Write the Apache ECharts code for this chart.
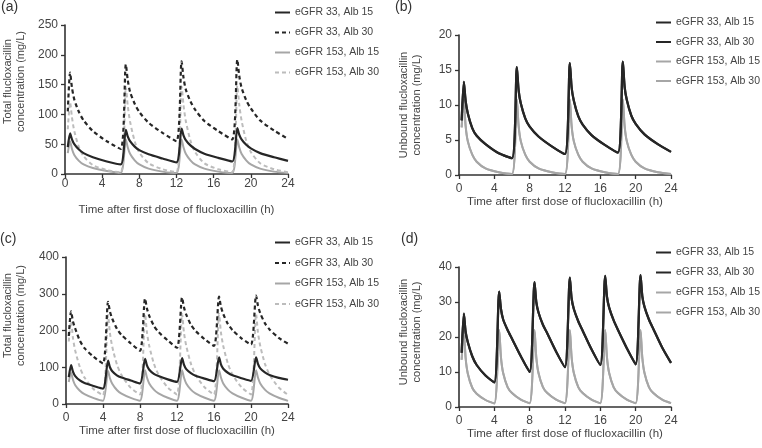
<!DOCTYPE html>
<html>
<head>
<meta charset="utf-8">
<script src="https://cdn.jsdelivr.net/npm/echarts@6/dist/echarts.min.js"></script>
<style>
  html, body { margin: 0; padding: 0; background: #fff; }
  #chart { width: 762px; height: 448px; }
</style>
</head>
<body>
<div id="chart"></div>
<script>
// sampling times (h) - q6h dosing for (a)/(b), q4h for (c)/(d)
const timeQ6 = [0.3, 0.55, 0.75, 1, 1.5, 2, 3, 4.5, 6,
  6.55, 6.75, 7, 7.5, 8, 9, 10.5, 12,
  12.55, 12.75, 13, 13.5, 14, 15, 16.5, 18,
  18.55, 18.75, 19, 19.5, 20, 21, 22.5, 24];
const timeQ4 = [0.3, 0.55, 0.75, 1, 1.5, 2, 3, 4,
  4.55, 4.75, 5, 5.5, 6, 7, 8,
  8.55, 8.75, 9, 9.5, 10, 11, 12,
  12.55, 12.75, 13, 13.5, 14, 15, 16,
  16.55, 16.75, 17, 17.5, 18, 19, 20,
  20.55, 20.75, 21, 21.5, 22, 23, 24];

const legendNames = ['eGFR 33, Alb 15', 'eGFR 33, Alb 30', 'eGFR 153, Alb 15', 'eGFR 153, Alb 30'];

// (a) total concentration, q6h
const totalA_33_15 = [45, 68, 58, 50, 41, 35, 28, 21, 16,
  74, 63, 55, 46, 40, 33, 26, 19.5,
  76, 65, 57, 48, 42, 34, 27, 21,
  77, 66, 58, 49, 43, 35, 28, 22];
const totalA_33_30 = [105, 170, 145, 125, 104, 90, 72, 55, 42,
  184, 158, 138, 118, 104, 86, 69, 55,
  189, 162, 142, 122, 108, 89, 72, 58,
  192, 165, 145, 124, 110, 90, 73, 59];
const totalA_153_15 = [35, 55, 42, 32, 22, 16, 10, 5, 2,
  58, 45, 34, 23, 16, 9, 4, 1.5,
  58, 45, 34, 23, 16, 9, 4, 1.5,
  58, 45, 34, 23, 16, 9, 4, 1.5];
const totalA_153_30 = [75, 120, 95, 72, 45, 30, 15, 6.5, 2.5,
  146, 115, 88, 55, 36, 18, 8, 3,
  147, 116, 89, 56, 37, 18, 8, 3,
  148, 117, 90, 56, 37, 18, 8, 3];

// (b) unbound concentration, q6h (albumin has no effect)
const unboundB_33_15 = [7.8, 13.3, 10.6, 8.8, 6.7, 5.6, 4.4, 3.1, 2.4,
  15.4, 12.1, 10.2, 8.1, 6.9, 5.5, 4.1, 3.0,
  16.0, 12.5, 10.6, 8.4, 7.2, 5.7, 4.3, 3.2,
  16.2, 12.6, 10.7, 8.5, 7.3, 5.8, 4.4, 3.3];
const unboundB_33_30 = [7.8, 13.3, 10.6, 8.8, 6.7, 5.6, 4.4, 3.1, 2.4,
  15.4, 12.1, 10.2, 8.1, 6.9, 5.5, 4.1, 3.0,
  16.0, 12.5, 10.6, 8.4, 7.2, 5.7, 4.3, 3.2,
  16.2, 12.6, 10.7, 8.5, 7.3, 5.8, 4.4, 3.3];
const unboundB_153_15 = [6.8, 10.8, 7.0, 4.8, 2.9, 1.9, 0.95, 0.4, 0.15,
  10.8, 7.0, 4.8, 2.9, 1.9, 0.95, 0.4, 0.15,
  10.8, 7.0, 4.8, 2.9, 1.9, 0.95, 0.4, 0.15,
  10.8, 7.0, 4.8, 2.9, 1.9, 0.95, 0.4, 0.15];
const unboundB_153_30 = [6.8, 10.8, 7.0, 4.8, 2.9, 1.9, 0.95, 0.4, 0.15,
  10.8, 7.0, 4.8, 2.9, 1.9, 0.95, 0.4, 0.15,
  10.8, 7.0, 4.8, 2.9, 1.9, 0.95, 0.4, 0.15,
  10.8, 7.0, 4.8, 2.9, 1.9, 0.95, 0.4, 0.15];

// (c) total concentration, q4h
const totalC_33_15 = [73, 106, 88, 76, 64, 57, 49, 42,
  118, 100, 89, 78, 72, 64, 56,
  123, 105, 93, 82, 76, 67, 60,
  125, 107, 95, 84, 77, 69, 62,
  127, 108, 96, 85, 78, 70, 63,
  127, 109, 97, 86, 79, 71, 66];
const totalC_33_30 = [185, 252, 225, 205, 172, 152, 128, 110,
  278, 252, 232, 205, 188, 165, 145,
  287, 260, 240, 213, 196, 173, 153,
  290, 263, 243, 216, 199, 176, 158,
  292, 265, 245, 218, 201, 178, 162,
  295, 268, 247, 220, 203, 180, 164];
const totalC_153_15 = [60, 85, 66, 51, 36, 27, 16, 9,
  90, 70, 55, 38, 28, 16.5, 9,
  92, 72, 56, 39, 29, 17, 9,
  92, 72, 56, 39, 29, 17, 9,
  92, 72, 56, 39, 29, 17, 9,
  92, 72, 56, 39, 29, 17, 8.5];
const totalC_153_30 = [170, 225, 180, 145, 100, 72, 40, 24,
  242, 193, 156, 108, 79, 44, 26,
  245, 195, 158, 110, 80, 45, 26,
  245, 195, 158, 110, 80, 45, 26,
  245, 195, 158, 110, 80, 45, 26,
  245, 195, 158, 110, 80, 45, 25];

// (d) unbound concentration, q4h
const unboundD_33_15 = [15.5, 26.7, 21.5, 18.5, 14.5, 12, 9, 7,
  33, 28, 25, 22, 19.5, 14.5, 10,
  35.7, 30, 27, 23.5, 21, 15.8, 11.4,
  37, 31, 28, 24.5, 21.8, 16.5, 12,
  37.5, 31.5, 28.4, 24.8, 22, 16.8, 12.2,
  37.7, 31.7, 28.6, 25, 22.3, 17, 12.6];
const unboundD_33_30 = unboundD_33_15.slice();
const unboundD_153_15 = [13.5, 22, 14, 9.5, 5.5, 3.8, 2, 1,
  22, 14.2, 9.7, 5.7, 4, 2.1, 1.1,
  22, 14.2, 9.7, 5.7, 4, 2.1, 1.1,
  22, 14.2, 9.7, 5.7, 4, 2.1, 1.1,
  22, 14.2, 9.7, 5.7, 4, 2.1, 1.1,
  22, 14.2, 9.7, 5.7, 4, 2.1, 1.1];
const unboundD_153_30 = unboundD_153_15.slice();

const FONT = '"Liberation Sans", Arial, sans-serif';
const TEXT = '#444';
const AXIS = '#333';
const BLACK = '#262626';
const GREY = '#a6a6a6';
const GREY_DASH = '#bcbcbc';

function pairs(t, v) {
  return t.map((x, i) => [x, v[i]]);
}

const panels = [
  { tag: '(a)', tagPos: [1, 0], grid: { left: 64, top: 25, width: 224, height: 149 },
    yMax: 250, yStep: 50, yName: 'Total flucloxacillin\nconcentration (mg/L)', yGap: 38, yShift: 36,
    xGap: 30, xMargin: 4, time: timeQ6, dashed: true,
    values: [totalA_33_15, totalA_33_30, totalA_153_15, totalA_153_30],
    legend: { left: 274, top: 7, itemGap: 9 } },
  { tag: '(b)', tagPos: [395, 0], grid: { left: 459, top: 35, width: 212, height: 140 },
    yMax: 20, yStep: 5, yName: 'Unbound flucloxacillin\nconcentration (mg/L)', yGap: 36, yShift: 0,
    xGap: 21, xMargin: 8, time: timeQ6, dashed: false,
    values: [unboundB_33_15, unboundB_33_30, unboundB_153_15, unboundB_153_30],
    legend: { left: 655, top: 17, itemGap: 8.5 } },
  { tag: '(c)', tagPos: [0, 232], grid: { left: 65, top: 257, width: 223, height: 147 },
    yMax: 400, yStep: 100, yName: 'Total flucloxacillin\nconcentration (mg/L)', yGap: 39, yShift: 30,
    xGap: 21, xMargin: 8, time: timeQ4, dashed: true,
    values: [totalC_33_15, totalC_33_30, totalC_153_15, totalC_153_30],
    legend: { left: 274, top: 237, itemGap: 9.5 } },
  { tag: '(d)', tagPos: [401, 232], grid: { left: 459, top: 267, width: 212, height: 140 },
    yMax: 40, yStep: 10, yName: 'Unbound flucloxacillin\nconcentration (mg/L)', yGap: 36, yShift: 10,
    xGap: 21, xMargin: 8, time: timeQ4, dashed: false,
    values: [unboundD_33_15, unboundD_33_30, unboundD_153_15, unboundD_153_30],
    legend: { left: 655, top: 247, itemGap: 9 } }
];

const option = {
  backgroundColor: '#fff',
  animation: false,
  title: [], grid: [], xAxis: [], yAxis: [], legend: [], series: []
};

panels.forEach((p, i) => {
  option.title.push({
    text: p.tag, left: p.tagPos[0], top: p.tagPos[1], padding: 0,
    textStyle: { fontFamily: FONT, fontSize: 14, fontWeight: 'normal', color: '#333' }
  });
  option.grid.push(Object.assign({ containLabel: false }, p.grid));
  option.xAxis.push({
    type: 'value', gridIndex: i, min: 0, max: 24, interval: 4,
    name: 'Time after first dose of flucloxacillin (h)',
    nameLocation: 'middle', nameGap: p.xGap,
    nameTextStyle: { fontFamily: FONT, fontSize: 11.5, color: TEXT },
    axisLine: { onZero: false, lineStyle: { color: AXIS, width: 1.6 } },
    axisTick: { show: true, length: 4, lineStyle: { color: AXIS, width: 1.3 } },
    axisLabel: { margin: p.xMargin, fontFamily: FONT, fontSize: 12, color: TEXT },
    splitLine: { show: false }
  });
  option.yAxis.push({
    type: 'value', gridIndex: i, min: 0, max: p.yMax, interval: p.yStep,
    name: p.yName, nameLocation: 'middle', nameRotate: 90, nameGap: p.yGap,
    nameTextStyle: { fontFamily: FONT, fontSize: 11, color: TEXT, lineHeight: 13,
      padding: [0, 0, 0, p.yShift] },
    axisLine: { show: true, lineStyle: { color: AXIS, width: 1.6 } },
    axisTick: { show: true, length: 4, lineStyle: { color: AXIS, width: 1.3 } },
    axisLabel: { margin: 7, fontFamily: FONT, fontSize: 12, color: TEXT },
    splitLine: { show: false }
  });
  const names = legendNames.map(n => p.tag + '|' + n);
  option.legend.push(Object.assign({
    orient: 'vertical', data: names, itemWidth: 15, itemHeight: 10, padding: 0,
    itemStyle: { opacity: 0 },
    textStyle: { fontFamily: FONT, fontSize: 10.5, color: TEXT },
    formatter: name => name.split('|')[1]
  }, p.legend));
  p.values.forEach((vals, k) => {
    const isBlack = k < 2;
    const isDashed = p.dashed && (k === 1 || k === 3);
    const color = isBlack ? BLACK : (isDashed ? GREY_DASH : GREY);
    option.series.push({
      name: names[k], type: 'line', xAxisIndex: i, yAxisIndex: i,
      data: pairs(p.time, vals),
      symbol: 'none', smooth: 0.25, z: isBlack ? 3 : 2,
      lineStyle: { color: color, width: isBlack ? 2.2 : 2, type: isDashed ? [4, 3] : 'solid' },
      itemStyle: { color: color }
    });
  });
});

const chart = echarts.init(document.getElementById('chart'));
chart.setOption(option);
</script>
</body>
</html>
